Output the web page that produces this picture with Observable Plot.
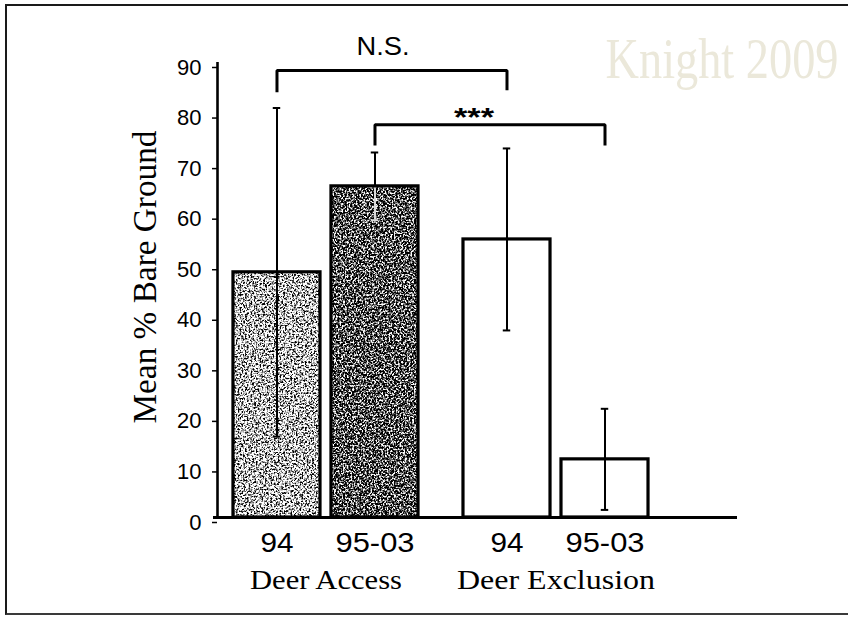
<!DOCTYPE html>
<html>
<head>
<meta charset="utf-8">
<script src="https://cdn.jsdelivr.net/npm/d3@7"></script>
<script src="https://cdn.jsdelivr.net/npm/@observablehq/plot@0.6"></script>
<style>
  html, body { margin: 0; padding: 0; background: #fff; }
  #figure { position: relative; width: 848px; height: 617px; overflow: hidden; }
  #figure svg { position: absolute; left: 0; top: 0; }
  #border {
    position: absolute; left: 5px; top: 4px; width: 1000px; height: 607px;
    border-left: 2px solid #1a1a1a; border-top: 2px solid #1a1a1a; border-bottom: 2px solid #3a3a3a;
    pointer-events: none;
  }
</style>
</head>
<body>
<div id="figure"><div id="border"></div></div>
<script>
// Mean % bare ground by treatment and period, with error bars
const groups = ["Deer Access", "Deer Access", "Deer Exclusion", "Deer Exclusion"];
const periods = ["94", "95-03", "94", "95-03"];
const meanBare = [48.5, 65.5, 55, 11.5];
const errBare = [32.5, 6.7, 18, 10];

const groupNames = ["Deer Access", "Deer Exclusion"];
const periodNames = ["94", "95-03"];
const yTicks = [0, 10, 20, 30, 40, 50, 60, 70, 80, 90];

// pairwise comparisons drawn as brackets: bar index a vs bar index b
const comparisons = [
  {a: 0, b: 2, label: "N.S."},
  {a: 1, b: 3, label: "***"}
];

// ---- layout ----
const groupStep = 2.347;   // distance between the two groups, in bar steps
const halfBar = 0.444;     // half bar width, in bar steps
const capHalf = 0.038;     // half width of error-bar caps
const xDomain = [-0.607, 4.699];
const bracketLevels = [
  {top: 88.4, legA: 84.1, legB: 84.5, dx: -9, dy: -16, fontSize: 25, fontWeight: "normal"},
  {top: 77.7, legA: 73.6, legB: 73.6, dx: -16, dy: 1, fontSize: 25, fontWeight: "bold"}
];
const textWidths = {
  "Mean % Bare Ground": 293, "Deer Access": 152, "Deer Exclusion": 198,
  "N.S.": 53, "***": 40, "Knight 2009": 233, "94": 33, "95-03": 79
};
const sans = "'Liberation Sans', Arial, Helvetica, sans-serif";
const serif = "'Liberation Serif', 'Times New Roman', Times, serif";

const pos = i => groupNames.indexOf(groups[i]) * groupStep + periodNames.indexOf(periods[i]);
const rows = groups.map((g, i) => ({
  i, group: g, period: periods[i], mean: meanBare[i], err: errBare[i], x: pos(i)
}));

const fillOf = d => d.group === "Deer Access"
  ? (d.period === "94" ? "url(#grainLight)" : "url(#grainDark)")
  : "white";
const lowerStroke = d => (d.group === "Deer Access" && d.period === "95-03") ? "#d9d9d9" : "black";

const caps = rows.flatMap(d => [
  {x: d.x, y: d.mean + d.err, stroke: "black"},
  {x: d.x, y: d.mean - d.err, stroke: lowerStroke(d)}
]);

const bracketPts = comparisons.flatMap((c, k) => {
  const L = bracketLevels[k], xa = rows[c.a].x, xb = rows[c.b].x;
  return [
    {id: k, x: xa, y: L.legA}, {id: k, x: xa, y: L.top},
    {id: k, x: xb, y: L.top}, {id: k, x: xb, y: L.legB}
  ];
});
const bracketLabelMarks = comparisons.map((c, k) => {
  const L = bracketLevels[k];
  return Plot.text([{label: c.label, x: (rows[c.a].x + rows[c.b].x) / 2, y: L.top}], {
    x: "x", y: "y", text: "label", lineAnchor: "bottom",
    dx: L.dx, dy: L.dy, fontSize: L.fontSize, fontWeight: L.fontWeight, fontFamily: sans
  });
});

const groupCenters = groupNames.map(g => {
  const xs = rows.filter(d => d.group === g).map(d => d.x);
  return {group: g, x: d3.mean(xs)};
});
const periodByPos = new Map(rows.map(d => [d.x, d.period]));

const chart = Plot.plot({
  width: 848,
  height: 617,
  marginLeft: 217,
  marginRight: 111,
  marginTop: 62,
  marginBottom: 100,
  style: {fontFamily: sans, background: "transparent", overflow: "visible", color: "black"},
  x: {domain: xDomain, label: null},
  y: {domain: [0, 90], label: null},
  marks: [
    // bars
    Plot.rect(rows, {x1: d => d.x - halfBar, x2: d => d.x + halfBar, y1: 0, y2: "mean", fill: fillOf}),
    // error bars
    Plot.ruleX(rows, {x: "x", y1: d => d.mean - d.err, y2: "mean", stroke: lowerStroke, strokeWidth: 2}),
    Plot.ruleX(rows, {x: "x", y1: "mean", y2: d => d.mean + d.err, stroke: "black", strokeWidth: 2}),
    Plot.ruleY(caps, {x1: d => d.x - capHalf, x2: d => d.x + capHalf, y: "y", stroke: d => d.stroke, strokeWidth: 2}),
    // bar outlines
    Plot.rect(rows, {x1: d => d.x - halfBar, x2: d => d.x + halfBar, y1: 0, y2: "mean", fill: "none", stroke: "black", strokeWidth: 3.2}),
    // axes
    Plot.ruleX([xDomain[0]], {stroke: "black", strokeWidth: 2.6}),
    Plot.ruleY([0], {stroke: "black", strokeWidth: 3.2, insetLeft: -4}),
    Plot.axisY({ticks: yTicks, tickSize: 5, tickPadding: 11, fontSize: 22, strokeWidth: 1.5, dy: 5, label: null}),
    Plot.axisX(rows.map(d => d.x), {tickSize: 0, tickPadding: 15, fontSize: 28, tickFormat: d => periodByPos.get(d), label: null}),
    Plot.text(groupCenters, {x: "x", text: "group", frameAnchor: "bottom", lineAnchor: "bottom", dy: 71, fontFamily: serif, fontSize: 27}),
    Plot.text(["Mean % Bare Ground"], {frameAnchor: "left", textAnchor: "middle", rotate: -90, lineAnchor: "bottom", dx: -62, dy: -13, fontFamily: serif, fontSize: 34}),
    // significance brackets
    Plot.line(bracketPts, {x: "x", y: "y", z: "id", stroke: "black", strokeWidth: 3, strokeLinejoin: "miter", strokeLinecap: "butt"}),
    ...bracketLabelMarks,
    // watermark
    Plot.text(["Knight 2009"], {frameAnchor: "top-right", textAnchor: "end", lineAnchor: "bottom", dx: 101, dy: 15, fontFamily: serif, fontSize: 58, fill: "#ebe8da"})
  ]
});

// fit each label to its set width
d3.select(chart).selectAll("text").each(function () {
  const w = textWidths[this.textContent];
  if (w) {
    this.setAttribute("textLength", w);
    this.setAttribute("lengthAdjust", "spacingAndGlyphs");
  }
});

// grainy screen fills for the deer-access bars
const defs = d3.select(chart).insert("defs", ":first-child");
defs.html(`
  <filter id="grainLightF" x="0" y="0" width="1" height="1" color-interpolation-filters="sRGB">
    <feTurbulence type="fractalNoise" baseFrequency="0.55" numOctaves="4" seed="4"/>
    <feColorMatrix type="matrix" values="4.2 0 0 0 -1.35  4.2 0 0 0 -1.35  4.2 0 0 0 -1.35  0 0 0 0 1"/>
  </filter>
  <filter id="grainDarkF" x="0" y="0" width="1" height="1" color-interpolation-filters="sRGB">
    <feTurbulence type="fractalNoise" baseFrequency="0.55" numOctaves="4" seed="9"/>
    <feColorMatrix type="matrix" values="4.2 0 0 0 -1.8  4.2 0 0 0 -1.8  4.2 0 0 0 -1.8  0 0 0 0 1"/>
  </filter>
  <pattern id="grainLight" patternUnits="userSpaceOnUse" x="0" y="0" width="848" height="617">
    <rect width="848" height="617" filter="url(#grainLightF)"/>
  </pattern>
  <pattern id="grainDark" patternUnits="userSpaceOnUse" x="0" y="0" width="848" height="617">
    <rect width="848" height="617" filter="url(#grainDarkF)"/>
  </pattern>
`);

document.getElementById("figure").appendChild(chart);
</script>
</body>
</html>
